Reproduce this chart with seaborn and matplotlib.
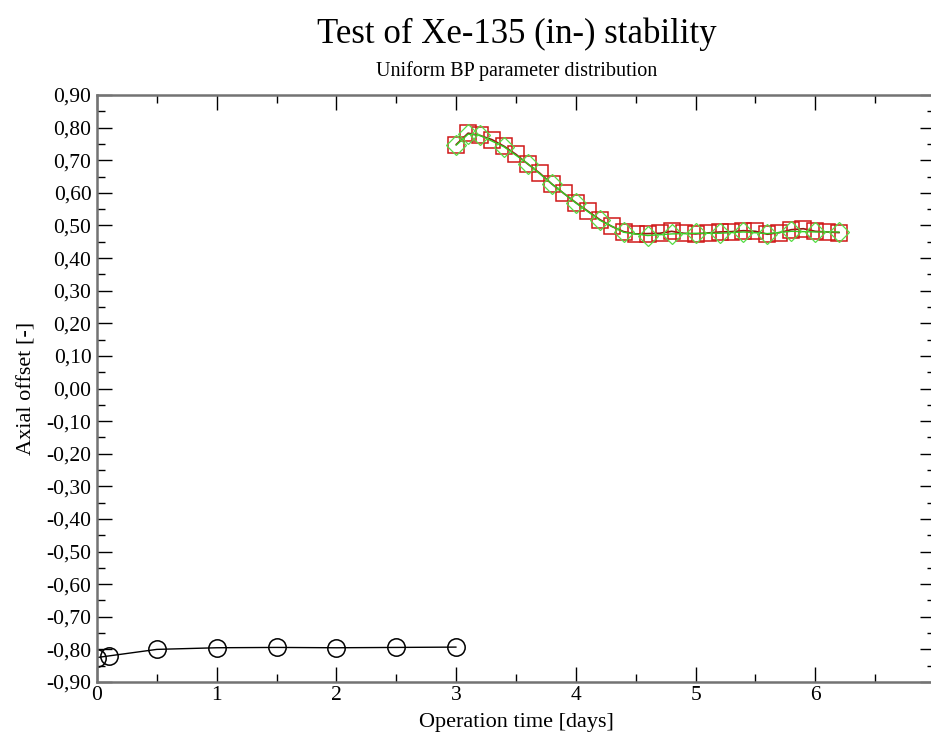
import matplotlib
matplotlib.use("Agg")
import matplotlib.pyplot as plt
from matplotlib.ticker import MultipleLocator, FuncFormatter
import seaborn as sns
import pandas as pd

# Axial offset before the perturbation
base_days = [0.0, 0.1, 0.5, 1.0, 1.5, 2.0, 2.5, 3.0]
base_ao = [-0.825, -0.820, -0.800, -0.795, -0.794, -0.795, -0.794, -0.793]

# Axial offset after the perturbation, fine time step
fine_days = [3.0, 3.1, 3.2, 3.3, 3.4, 3.5, 3.6, 3.7, 3.8, 3.9, 4.0,
             4.1, 4.2, 4.3, 4.4, 4.5, 4.6, 4.7, 4.8, 4.9, 5.0,
             5.1, 5.2, 5.3, 5.4, 5.5, 5.6, 5.7, 5.8, 5.9, 6.0, 6.1, 6.2]
fine_ao = [0.748, 0.783, 0.776, 0.763, 0.743, 0.718, 0.688, 0.660, 0.627, 0.598, 0.570,
           0.544, 0.518, 0.497, 0.481, 0.474, 0.475, 0.476, 0.482, 0.476, 0.474,
           0.477, 0.480, 0.481, 0.484, 0.482, 0.473, 0.478, 0.487, 0.490, 0.482, 0.480, 0.478]

# Axial offset after the perturbation, coarse time step
coarse_days = [3.0, 3.1, 3.2, 3.4, 3.6, 3.8, 4.0, 4.2, 4.4, 4.6, 4.8,
               5.0, 5.2, 5.4, 5.6, 5.8, 6.0, 6.2]
coarse_ao = [0.746, 0.780, 0.776, 0.741, 0.689, 0.627, 0.569, 0.516, 0.479, 0.469, 0.474,
             0.476, 0.476, 0.480, 0.475, 0.482, 0.480, 0.480]

x_ticks = [0, 1, 2, 3, 4, 5, 6, 7]

title = "Test of Xe-135 (in-) stability"
subtitle = "Uniform BP parameter distribution"
x_label = "Operation time [days]"
y_label = "Axial offset [-]"

sns.set_theme(style="ticks")
plt.rcParams["font.family"] = ["Liberation Serif", "DejaVu Serif"]
plt.rcParams["text.color"] = "black"
plt.rcParams["axes.labelcolor"] = "black"

fig = plt.figure(figsize=(9.31, 7.37), dpi=100)
ax = fig.add_axes([97 / 931, 1 - 682 / 737, 838 / 931, 587 / 737])

base_df = pd.DataFrame({"t": base_days, "ao": base_ao})
fine_df = pd.DataFrame({"t": fine_days, "ao": fine_ao})
coarse_df = pd.DataFrame({"t": coarse_days, "ao": coarse_ao})

sns.lineplot(data=base_df, x="t", y="ao", ax=ax, color="black", linewidth=1.0,
             marker="o", markersize=12.5, markerfacecolor="none",
             markeredgecolor="black", markeredgewidth=1.1, sort=False)
sns.lineplot(data=fine_df, x="t", y="ao", ax=ax, color="#8b1a10", linewidth=1.2,
             marker="s", markersize=11, markerfacecolor="none",
             markeredgecolor="#d01818", markeredgewidth=1.1, sort=False)
sns.lineplot(data=coarse_df, x="t", y="ao", ax=ax, color="#33cc22", linewidth=1.0,
             marker="D", markersize=10, markerfacecolor="none",
             markeredgecolor="#55dd44", markeredgewidth=0.9, sort=False)

ax.set_xlim(0, 7)
ax.set_ylim(-0.9, 0.9)
ax.set_xticks(x_ticks)
ax.xaxis.set_minor_locator(MultipleLocator(0.5))
ax.yaxis.set_major_locator(MultipleLocator(0.1))
ax.yaxis.set_minor_locator(MultipleLocator(0.05))
ax.yaxis.set_major_formatter(FuncFormatter(lambda v, p: f"{v:.2f}".replace(".", ",").replace("-0,00", "0,00")))

ax.tick_params(which="both", direction="in", top=True, right=True, colors="black",
               labelsize=15.5, pad=4)
ax.tick_params(axis="x", which="both", pad=3)
ax.tick_params(which="major", length=11, width=1.0)
ax.tick_params(which="minor", length=6, width=1.0)
for side in ["left", "right", "top", "bottom"]:
    ax.spines[side].set_color("0.45")
    ax.spines[side].set_linewidth(1.8)

ax.set_xlabel(x_label, fontsize=16, labelpad=6)
ax.set_ylabel(y_label, fontsize=16, labelpad=7)

fig.text(517 / 931, 1 - 43 / 737, title, ha="center", va="baseline", fontsize=25)
fig.text(517 / 931, 1 - 76 / 737, subtitle, ha="center", va="baseline", fontsize=14.5)

fig.savefig("out.png", dpi=100, facecolor="white")
